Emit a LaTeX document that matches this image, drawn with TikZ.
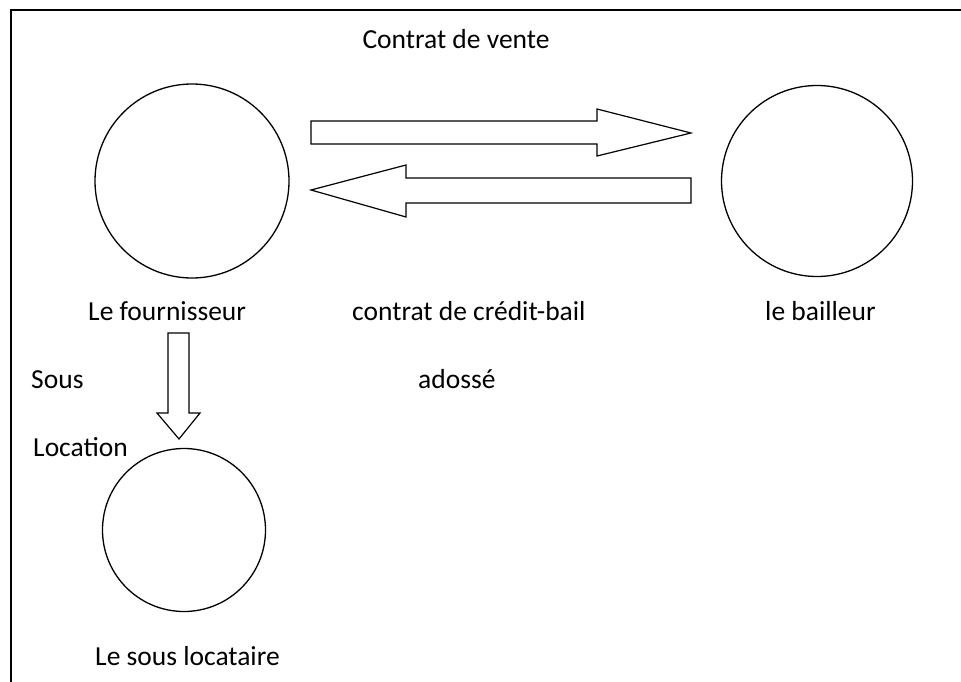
\documentclass[tikz,border=0pt]{standalone}
\usepackage{fontspec}
\setmainfont{Carlito}
\begin{document}
\begin{tikzpicture}[x=1pt,y=-1pt,
  party/.style={draw,circle,line width=1.3pt,inner sep=0pt},
  blockarrow/.style={draw,line width=1.2pt,line join=miter},
  lbl/.style={anchor=base west,inner sep=0pt,font=\fontsize{27.5}{30}\selectfont}]
\useasboundingbox (0,0) rectangle (961,682);
% frame (cut at right and bottom)
\draw[line width=2pt] (10.5,690) -- (10.5,10.5) -- (970,10.5);
% parties
\node[party,minimum size=194pt] (four) at (192,181) {};
\node[party,minimum size=191pt] (bail) at (817,181) {};
\node[party,minimum size=163pt] (sous) at (184,530) {};
% block arrows
\draw[blockarrow] (311,121) -- (597,121) -- (597,109) -- (691,133) -- (597,156) -- (597,144) -- (311,144) -- cycle;
\draw[blockarrow] (691,178) -- (406,178) -- (406,165) -- (311,190) -- (406,217) -- (406,203) -- (691,203) -- cycle;
\draw[blockarrow] (168,333) -- (189,333) -- (189,413) -- (200,413) -- (179,439) -- (157,413) -- (168,413) -- cycle;
% labels
\node[lbl,anchor=base] (t1) at (456,49) {Contrat de vente};
\node[lbl] (t2) at (88,320) {Le fournisseur};
\node[lbl] (t3) at (352,320) {contrat de crédit-bail};
\node[lbl] (t4) at (765,320) {le bailleur};
\node[lbl] (t5) at (31,388) {Sous};
\node[lbl] (t6) at (418,388) {adossé};
\node[lbl] (t7) at (33,456) {Location};
\node[lbl] (t8) at (95,665) {Le sous locataire};
\end{tikzpicture}
\end{document}
